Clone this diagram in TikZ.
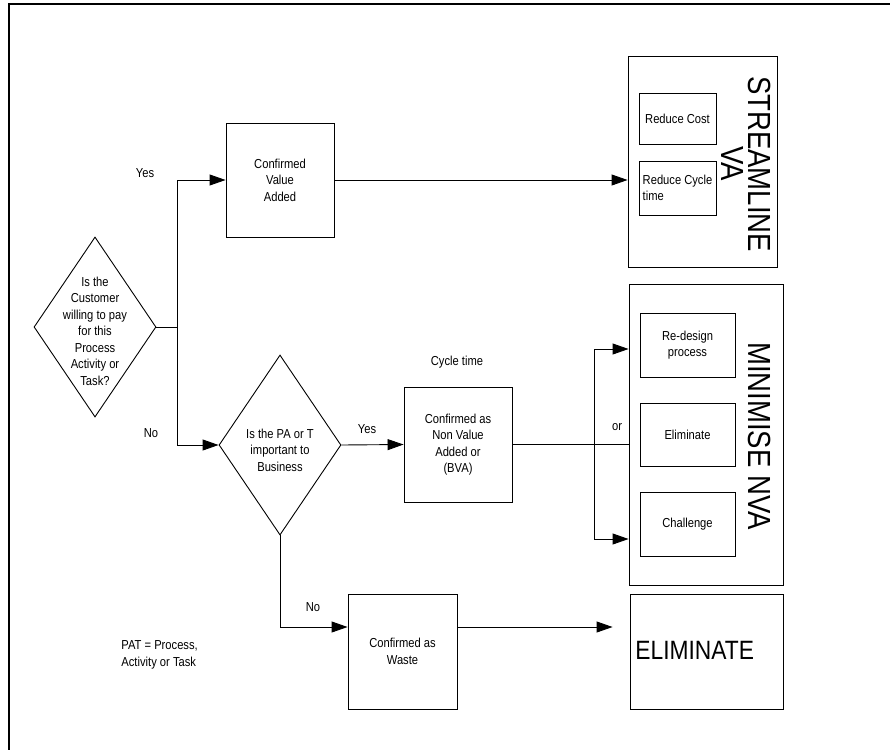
\documentclass[tikz,border=0pt]{standalone}
\usepackage{fontspec}
\setmainfont[FakeStretch=0.86]{Liberation Sans}
\usepackage{tikz}
\usetikzlibrary{shapes.geometric}
\usetikzlibrary{arrows.meta}

\begin{document}
\begin{tikzpicture}[x = 1pt, y = -1pt, line width = .9pt,
  box/.style = {draw, rectangle, inner sep = 0, align = center, font = \fontsize{13}{16.5}\selectfont},
  decision/.style = {draw, diamond, inner sep = 0, minimum width = 122pt, minimum height = 180pt},
  txt/.style = {align = center, inner sep = 0, font = \fontsize{13}{16.5}\selectfont},
  arr/.style = {-{Triangle[length = 16pt, width = 11pt]}}]
 \useasboundingbox (0, 0) rectangle (890, 749);
 \draw [line width = 2pt] (9, 760) |- (900, 4);
 % questions
 \node [decision] (cust) at (95, 327) {};
 \node [txt] (custtxt) at (95, 331) {Is the\\Customer\\willing to pay\\for this\\Process\\Activity or\\Task?};
 \node [decision] (imp) at (280, 445) {};
 \node [txt] (imptxt) at (280, 450) {Is the PA or T\\important to\\Business};
 % value added
 \node [box, minimum width = 108pt, minimum height = 114pt] (cva) at (280, 180) {Confirmed\\Value\\Added};
 \node [box, minimum width = 149pt, minimum height = 211pt] (stream) at (702.5, 161.5) {};
 \node [box, align = left, minimum width = 77pt, minimum height = 51pt] (rcost) at (677.5, 118.5) {Reduce Cost};
 \node [box, align = left, minimum width = 77pt, minimum height = 54pt] (rcycle) at (677.5, 188) {Reduce Cycle\\time};
 \node [rotate = -90, align = center, inner sep = 0, font = \fontsize{32}{27}\selectfont] (streamtxt) at (746.5, 164) {STREAMLINE\\VA};
 % non value added
 \node [box, minimum width = 108pt, minimum height = 115pt] (nva) at (458, 444.5) {Confirmed as\\Non Value\\Added or\\(BVA)};
 \node [box, minimum width = 154pt, minimum height = 301pt] (minim) at (706, 434.5) {};
 \node [box, minimum width = 95pt, minimum height = 64pt] (redes) at (687.5, 345) {Re-design\\process};
 \node [box, minimum width = 95pt, minimum height = 63pt] (elim) at (687.5, 434.5) {Eliminate};
 \node [box, minimum width = 95pt, minimum height = 64pt] (chall) at (687.5, 524) {Challenge};
 \node [rotate = -90, inner sep = 0, font = \fontsize{32}{27}\selectfont] (minimtxt) at (760, 436) {MINIMISE NVA};
 % waste
 \node [box, minimum width = 109pt, minimum height = 115pt] (waste) at (402.5, 651.5) {Confirmed as\\Waste};
 \node [box, minimum width = 153pt, minimum height = 115pt] (elimbig) at (706.5, 651.5) {};
 \node [anchor = west, inner sep = 0, font = \fontsize{26.5}{30}\selectfont] (elimtxt) at (635, 650) {ELIMINATE};
 % labels
 \node [txt] (yes1) at (145, 173) {Yes};
 \node [txt] (no1) at (151, 433) {No};
 \node [txt] (yes2) at (367, 429) {Yes};
 \node [txt] (no2) at (313, 607) {No};
 \node [txt] (cycle) at (457, 362) {Cycle time};
 \node [txt] (or) at (617, 427) {or};
 \node [txt, align = left, anchor = west] (pat) at (121, 655) {PAT = Process,\\Activity or Task};
 % connectors
 \coordinate (fork) at (177, 327);
 \draw (cust.east) -- (fork);
 \draw [arr] (fork) |- (cva.west);
 \draw [arr] (fork) |- (imp.west);
 \draw [arr] (cva.east) -- (cva.east -| stream.west);
 \draw [arr] (imp.east) -- (nva.west);
 \draw (nva.east) -- (nva.east -| minim.west);
 \coordinate (ortop) at (594, 349);
 \coordinate (orbot) at (594, 539);
 \draw (ortop) -- (orbot);
 \draw [arr] (ortop) -- (ortop -| minim.west);
 \draw [arr] (orbot) -- (orbot -| minim.west);
 \draw [arr] (imp.south) |- ([yshift = 24.5pt] waste.west);
 \draw [arr] ([yshift = 24.5pt] waste.east) -- ([xshift = -17pt, yshift = 24.5pt] elimbig.west);
\end{tikzpicture}
\end{document}
